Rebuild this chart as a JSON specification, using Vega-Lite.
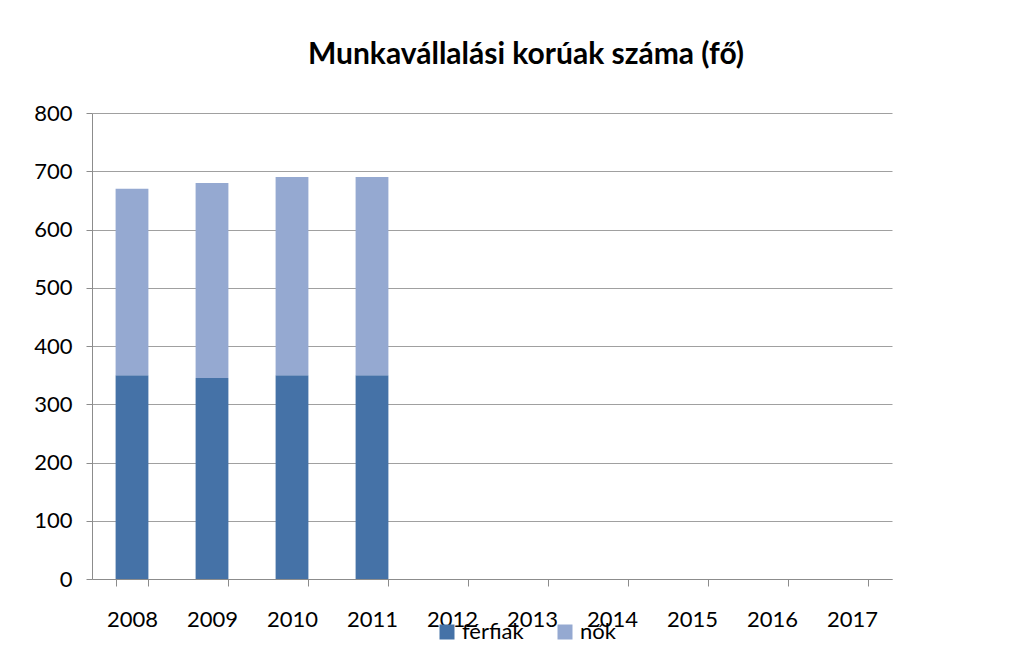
{
  "$schema": "https://vega.github.io/schema/vega-lite/v6.json",
  "width": 800,
  "height": 466,
  "autosize": "none",
  "padding": {"left": 92, "top": 113, "right": 144, "bottom": 78},
  "background": "white",
  "title": {"text": "Munkavállalási korúak száma (fő)", "font": "Lato", "fontSize": 30, "fontWeight": "bold", "color": "#000000", "anchor": "middle", "dx": 34, "offset": 32},
  "data": {"values": [
    {"ev": "2008", "nem": "férfiak", "fo": 350},
    {"ev": "2008", "nem": "nők", "fo": 320},
    {"ev": "2009", "nem": "férfiak", "fo": 345},
    {"ev": "2009", "nem": "nők", "fo": 335},
    {"ev": "2010", "nem": "férfiak", "fo": 350},
    {"ev": "2010", "nem": "nők", "fo": 340},
    {"ev": "2011", "nem": "férfiak", "fo": 350},
    {"ev": "2011", "nem": "nők", "fo": 340}
  ]},
  "mark": {"type": "bar"},
  "encoding": {
    "x": {"field": "ev", "type": "ordinal", "title": null,
      "scale": {"domain": ["2008","2009","2010","2011","2012","2013","2014","2015","2016","2017"], "paddingInner": 0.59, "paddingOuter": 0.295},
      "axis": {"labelAngle": 0, "labelFont": "Lato", "labelFontSize": 22, "labelColor": "#000000", "domainColor": "#8c8c8c", "tickColor": "#8c8c8c", "tickSize": 7, "tickBand": "extent", "labelPadding": 23, "grid": false}},
    "y": {"field": "fo", "type": "quantitative", "stack": "zero", "title": null,
      "scale": {"domain": [0, 800], "nice": false},
      "axis": {"values": [0,100,200,300,400,500,600,700,800], "labelFont": "Lato", "labelFontSize": 22, "labelColor": "#000000", "domainColor": "#8c8c8c", "tickColor": "#8c8c8c", "tickSize": 6, "labelPadding": 14, "gridColor": "#a0a0a0", "gridWidth": 1}},
    "color": {"field": "nem", "type": "nominal", "title": null,
      "scale": {"domain": ["férfiak", "nők"], "range": ["#4572A7", "#95A9D1"]},
      "legend": {"orient": "none", "legendX": 344, "legendY": 508, "direction": "horizontal", "symbolType": "square", "symbolSize": 225, "symbolStrokeWidth": 0, "labelFont": "Lato", "labelFontSize": 22, "labelColor": "#000000", "columnPadding": 30, "symbolOffset": 0}},
    "order": {"field": "nem", "sort": "ascending"}
  },
  "config": {"view": {"stroke": null}}
}
